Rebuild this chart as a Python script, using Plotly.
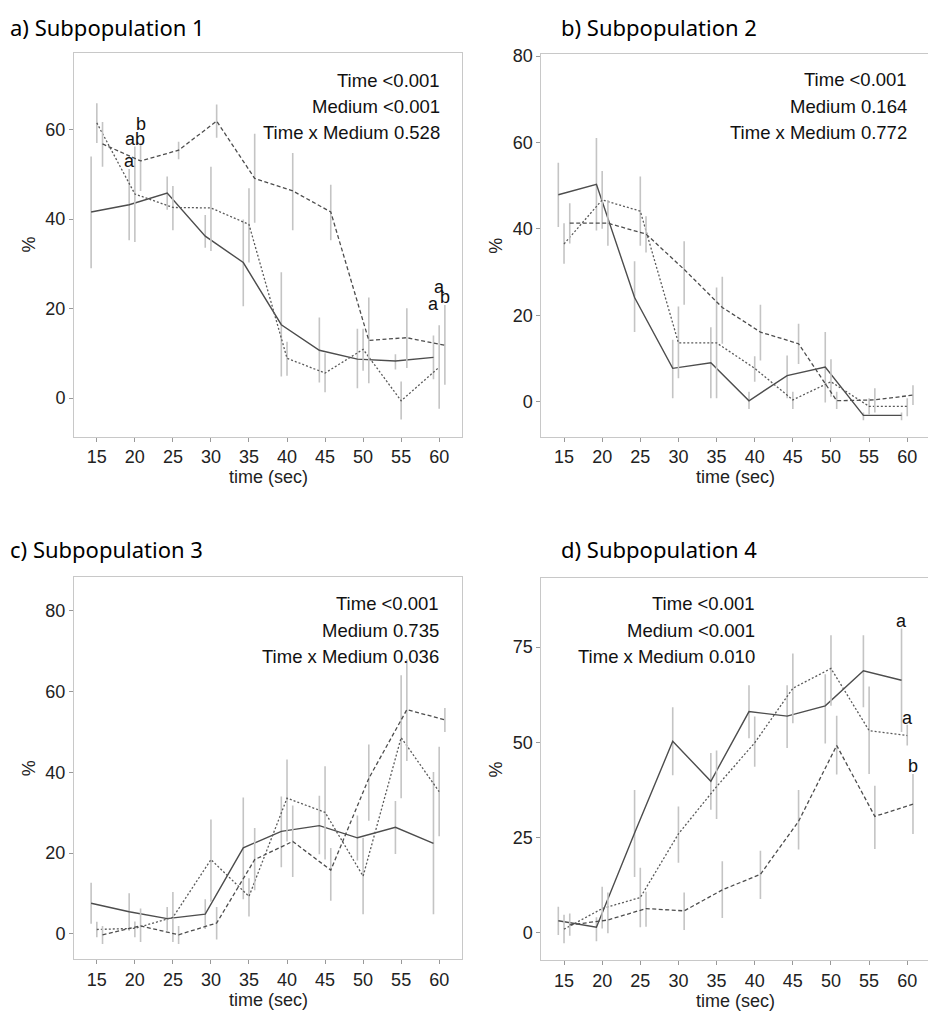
import plotly.graph_objects as go

W, H = 928, 1012
times = [15, 20, 25, 30, 35, 40, 45, 50, 55, 60]

# ---------------- Panel a ----------------
a_solid = [41.6, 43.2, 45.8, 36.2, 30.3, 16.4, 10.7, 8.7, 8.3, 9.1]
a_solid_hi = [54.0, 51.2, 49.5, 40.9, 39.9, 28.1, 18.0, 15.5, 9.8, 14.0]
a_solid_lo = [29.0, 35.3, 42.1, 33.6, 20.5, 4.8, 3.5, 2.2, 6.4, 4.2]
a_dot = [61.5, 45.6, 42.6, 42.5, 38.8, 8.9, 5.6, 10.9, -0.6, 6.9]
a_dot_hi = [65.9, 56.2, 47.4, 51.7, 46.9, 12.6, 10.0, 15.5, 3.7, 16.3]
a_dot_lo = [57.0, 34.9, 37.5, 32.9, 30.3, 5.0, 1.3, 6.1, -4.8, -2.4]
a_dash = [56.8, 53.0, 55.4, 61.9, 49.1, 46.3, 41.6, 12.9, 13.5, 11.8]
a_dash_hi = [61.7, 56.9, 57.3, 65.6, 59.1, 54.8, 47.7, 22.5, 20.1, 20.8]
a_dash_lo = [51.7, 46.3, 53.4, 58.2, 39.2, 37.5, 35.3, 3.3, 6.7, 3.0]

# ---------------- Panel b ----------------
b_solid = [47.9, 50.3, 24.1, 7.7, 9.0, 0.2, 6.0, 8.0, -3.2, -3.2]
b_solid_hi = [55.3, 61.0, 32.5, 14.3, 17.2, 2.3, 10.7, 16.1, -2.5, -2.5]
b_solid_lo = [40.4, 39.6, 16.1, 0.8, 0.8, -1.7, 0.8, -0.2, -4.3, -4.3]
b_dot = [36.5, 46.7, 44.1, 13.6, 13.6, 7.7, 0.4, 4.6, -1.1, -1.1]
b_dot_hi = [41.3, 53.4, 52.1, 22.0, 26.4, 10.5, 2.3, 9.8, 0.8, 0.8]
b_dot_lo = [31.9, 40.0, 36.1, 5.4, 0.8, 4.6, -1.7, 1.1, -3.1, -3.4]
b_dash = [41.3, 41.3, 38.8, 30.6, 21.8, 16.1, 13.4, 0.2, 0.4, 1.5]
b_dash_hi = [45.9, 46.7, 42.9, 37.1, 28.9, 22.4, 18.0, 2.3, 3.1, 3.8]
b_dash_lo = [36.6, 36.1, 34.5, 22.4, 13.4, 9.5, 8.7, -1.7, -2.5, -0.8]

# ---------------- Panel c ----------------
c_solid = [7.6, 5.5, 3.8, 4.9, 21.3, 25.4, 26.8, 23.8, 26.4, 22.4]
c_solid_hi = [12.7, 10.1, 6.7, 8.6, 33.8, 34.0, 34.2, 29.3, 32.9, 40.1]
c_solid_lo = [2.5, 0.8, 0.8, 1.2, 8.6, 16.5, 19.7, 18.2, 19.8, 4.9]
c_dot = [1.1, 1.4, 4.1, 18.4, 9.3, 33.6, 30.1, 14.3, 48.6, 35.2]
c_dot_hi = [3.0, 3.1, 10.4, 28.3, 13.8, 43.2, 41.5, 23.8, 64.0, 46.3]
c_dot_lo = [-0.8, -0.8, -2.0, 8.0, 4.3, 22.9, 18.4, 4.9, 33.6, 24.2]
c_dash = [-0.2, 2.0, -0.2, 2.7, 18.4, 22.9, 15.8, 38.5, 55.5, 53.0]
c_dash_hi = [2.0, 6.3, 2.0, 6.7, 26.2, 31.8, 21.3, 46.9, 68.0, 55.9]
c_dash_lo = [-2.5, -2.0, -2.5, -1.4, 10.8, 14.1, 8.2, 28.0, 42.8, 50.0]

# ---------------- Panel d ----------------
d_solid = [3.2, 1.5, 26.2, 50.3, 39.8, 58.1, 56.9, 59.6, 68.8, 66.3]
d_solid_hi = [6.9, 4.1, 37.5, 59.2, 47.2, 65.0, 65.0, 67.9, 78.1, 79.9]
d_solid_lo = [-0.5, -2.2, 14.7, 41.4, 32.3, 51.1, 48.5, 49.7, 59.2, 52.7]
d_dot = [1.0, 6.4, 9.3, 26.0, 38.4, 49.9, 64.2, 69.4, 53.1, 51.8]
d_dot_hi = [4.8, 12.1, 17.1, 33.2, 47.9, 56.8, 73.3, 78.1, 64.7, 54.6]
d_dot_lo = [-2.7, 1.2, 1.5, 18.4, 29.9, 43.6, 55.0, 59.6, 41.7, 49.2]
d_dash = [2.1, 3.4, 6.4, 5.8, 11.3, 15.4, 29.3, 49.2, 30.6, 33.8]
d_dash_hi = [5.1, 10.6, 10.8, 10.6, 18.8, 21.6, 37.5, 57.0, 38.6, 41.7]
d_dash_lo = [-0.7, -0.1, 1.6, 0.8, 3.9, 8.9, 21.9, 41.6, 22.0, 26.0]

# Stats text
stats_a = ["Time <0.001", "Medium <0.001", "Time x Medium 0.528"]
stats_b = ["Time <0.001", "Medium 0.164", "Time x Medium 0.772"]
stats_c = ["Time <0.001", "Medium 0.735", "Time x Medium 0.036"]
stats_d = ["Time <0.001", "Medium <0.001", "Time x Medium 0.010"]

titles = ["a) Subpopulation 1", "b) Subpopulation 2", "c) Subpopulation 3", "d) Subpopulation 4"]

# Significance letters: (time, series, letter, y)
letters_a = [(20, "solid", "a", 53.0), (20, "dot", "ab", 58.0), (20, "dash", "b", 61.3),
             (60, "solid", "a", 21.1), (60, "dot", "a", 24.9), (60, "dash", "b", 22.5)]
letters_d = [(60, "solid", "a", 81.8), (60, "dot", "a", 56.3), (60, "dash", "b", 43.8)]

yticks_a = [0, 20, 40, 60]
yticks_bc = [0, 20, 40, 60, 80]
yticks_d = [0, 25, 50, 75]
xticks = times

# ---------------- layout geometry (pixels) ----------------
def px_x(x):
    return x / W

def px_y(y):
    return 1 - y / H

panels = [
    dict(key="a", x0=74, x1=462, y0=45, y1=432, xr=[12, 63], yr=[-8.6, 77.2], yt=yticks_a,
         data=(a_solid, a_solid_lo, a_solid_hi, a_dot, a_dot_lo, a_dot_hi, a_dash, a_dash_lo, a_dash_hi),
         stats=stats_a, sx=442, sy=[73, 99.5, 125.5], tx=8, ty=19, letters=letters_a, mirror_y=True),
    dict(key="b", x0=541.3, x1=928, y0=46.7, y1=432, xr=[12.02, 62.72], yr=[-8.1, 80.4], yt=yticks_bc,
         data=(b_solid, b_solid_lo, b_solid_hi, b_dot, b_dot_lo, b_dot_hi, b_dash, b_dash_lo, b_dash_hi),
         stats=stats_b, sx=909, sy=[72.5, 99, 125.5], tx=559, ty=19, letters=[], mirror_y=False),
    dict(key="c", x0=74, x1=462, y0=573.7, y1=959, xr=[12, 63], yr=[-6.3, 88.3], yt=yticks_bc,
         data=(c_solid, c_solid_lo, c_solid_hi, c_dot, c_dot_lo, c_dot_hi, c_dash, c_dash_lo, c_dash_hi),
         stats=stats_c, sx=441, sy=[600, 627, 653.5], tx=8, ty=545, letters=[], mirror_y=True),
    dict(key="d", x0=541.3, x1=928, y0=574.3, y1=960, xr=[12.02, 62.72], yr=[-7.2, 93.2], yt=yticks_d,
         data=(d_solid, d_solid_lo, d_solid_hi, d_dot, d_dot_lo, d_dot_hi, d_dash, d_dash_lo, d_dash_hi),
         stats=stats_d, sx=757, sy=[600, 627, 653.5], tx=559, ty=545, letters=letters_d, mirror_y=False),
]

offsets = {"solid": -0.75, "dot": 0.0, "dash": 0.75}
styles = {
    "solid": dict(color="#4d4d4d", width=1.4, dash="solid"),
    "dot": dict(color="#5a5a5a", width=1.3, dash="2px,2px"),
    "dash": dict(color="#4d4d4d", width=1.3, dash="4px,2.5px"),
}
ERR_COLOR = "#c4c4c4"
BORDER = "#c8c8c8"
SANS = "Liberation Sans, Arial, sans-serif"
TICKFONT = dict(family=SANS, size=18, color="#222222")
TEXTFONT = dict(family=SANS, size=18.5, color="#111111")
LETTERFONT = dict(family=SANS, size=18, color="#111111")

fig = go.Figure()
annotations = []
layout = {}

for i, p in enumerate(panels):
    n = i + 1
    xa = "x" if n == 1 else f"x{n}"
    ya = "y" if n == 1 else f"y{n}"
    vals = p["data"]
    series = [("solid", vals[0], vals[1], vals[2]),
              ("dot", vals[3], vals[4], vals[5]),
              ("dash", vals[6], vals[7], vals[8])]
    for name, v, lo, hi in series:
        xs = [t + offsets[name] for t in times]
        fig.add_trace(go.Scatter(
            x=xs, y=v, mode="lines", xaxis=xa, yaxis=ya, showlegend=False,
            line=styles[name],
            error_y=dict(type="data", symmetric=False,
                         array=[h - m for h, m in zip(hi, v)],
                         arrayminus=[m - l for m, l in zip(v, lo)],
                         color=ERR_COLOR, thickness=1.6, width=0),
            hoverinfo="skip"))
    # axes
    layout["xaxis" if n == 1 else f"xaxis{n}"] = dict(
        domain=[px_x(p["x0"]), px_x(p["x1"])], range=p["xr"], anchor=ya,
        tickmode="array", tickvals=xticks, ticktext=[str(t) for t in xticks],
        showgrid=False, zeroline=False, showline=True, linecolor=BORDER, linewidth=1,
        mirror=True, ticks="outside", ticklen=4, tickcolor="#999999", tickfont=TICKFONT)
    layout["yaxis" if n == 1 else f"yaxis{n}"] = dict(
        domain=[px_y(p["y1"]), px_y(p["y0"])], range=p["yr"], anchor=xa,
        tickmode="array", tickvals=p["yt"], ticktext=[str(t) for t in p["yt"]],
        showgrid=False, zeroline=False, showline=True, linecolor=BORDER, linewidth=1,
        mirror=p["mirror_y"], ticks="outside", ticklen=4, tickcolor="#999999", tickfont=TICKFONT)
    # stats text
    for line, yy in zip(p["stats"], p["sy"]):
        annotations.append(dict(x=px_x(p["sx"]), y=px_y(yy), xref="paper", yref="paper",
                                text=line, showarrow=False, xanchor="right", yanchor="middle",
                                font=TEXTFONT))
    # panel title
    annotations.append(dict(x=px_x(p["tx"]), y=px_y(p["ty"]), xref="paper", yref="paper",
                            text=titles[i], showarrow=False, xanchor="left", yanchor="middle",
                            font=dict(family="Noto Sans, sans-serif", size=22, color="#000000")))
    # axis titles
    xc = (p["x0"] + 462) / 2 if p["x1"] < 900 else (p["x0"] + 929) / 2
    annotations.append(dict(x=px_x(xc), y=px_y(p["y1"] + 41), xref="paper", yref="paper",
                            text="time (sec)", showarrow=False, xanchor="center", yanchor="middle",
                            font=dict(family=SANS, size=18, color="#222222")))
    annotations.append(dict(x=px_x(p["x0"] - 45), y=px_y((p["y0"] + p["y1"]) / 2), xref="paper", yref="paper",
                            text="%", showarrow=False, textangle=-90, xanchor="center", yanchor="middle",
                            font=dict(family=SANS, size=18, color="#222222")))
    # significance letters
    for t, name, txt, yy in p["letters"]:
        annotations.append(dict(x=t + offsets[name], y=yy, xref=xa, yref=ya, text=txt,
                                showarrow=False, xanchor="center", yanchor="middle",
                                font=LETTERFONT))

fig.update_layout(
    width=W, height=H, margin=dict(l=0, r=0, t=0, b=0),
    paper_bgcolor="white", plot_bgcolor="white",
    annotations=annotations, showlegend=False, **layout)

fig.write_html("out.html")
